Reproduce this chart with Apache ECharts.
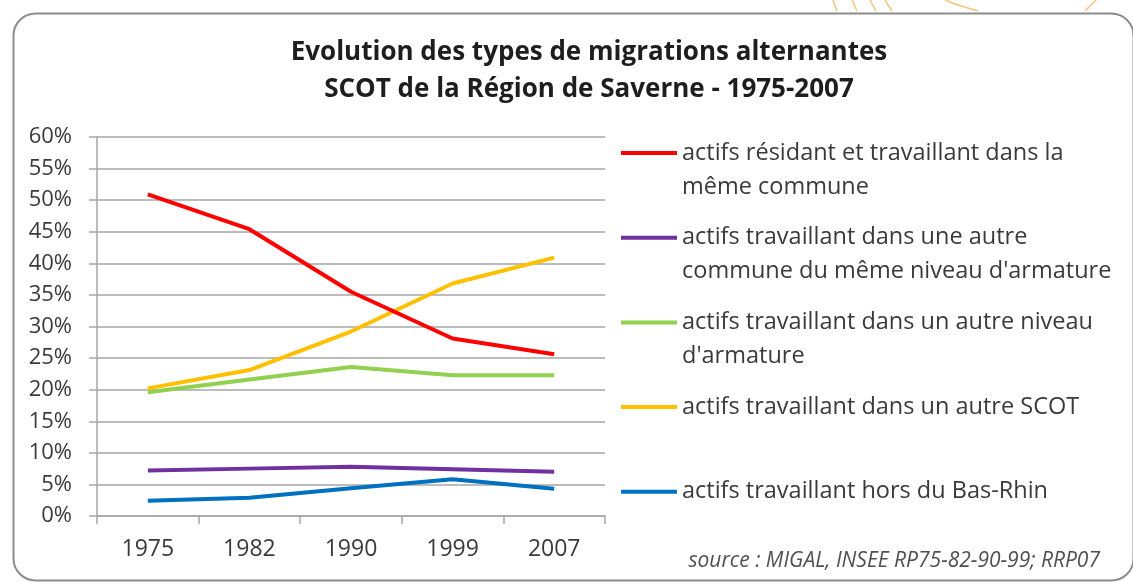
<!DOCTYPE html>
<html>
<head>
<meta charset="utf-8">
<script src="https://cdn.jsdelivr.net/npm/echarts@6/dist/echarts.min.js"></script>
<style>
html, body { margin: 0; padding: 0; background: #fff; }
#chart { width: 1133px; height: 582px; }
</style>
</head>
<body>
<div id="chart"></div>
<script>
// annees du recensement
var years = ['1975', '1982', '1990', '1999', '2007']

// parts en %
var resMemeCommune = [50.9, 45.4, 35.5, 28.1, 25.6]
var memeNiveau = [7.2, 7.5, 7.8, 7.4, 7.0]
var autreNiveau = [19.6, 21.6, 23.6, 22.3, 22.3]
var autreScot = [20.2, 23.1, 29.2, 36.8, 40.9]
var horsBasRhin = [2.4, 2.9, 4.4, 5.8, 4.3]

var names = [
	'actifs résidant et travaillant dans la\nmême commune',
	'actifs travaillant dans une autre\ncommune du même niveau d\'armature',
	'actifs travaillant dans un autre niveau\nd\'armature',
	'actifs travaillant dans un autre SCOT',
	'actifs travaillant hors du Bas-Rhin'
]
var values = [resMemeCommune, memeNiveau, autreNiveau, autreScot, horsBasRhin]
var colors = ['#ff0000', '#7030a0', '#92d050', '#ffc000', '#0070c0']

var font = 'Open Sans'
var lh = 34

var chart = echarts.init(document.getElementById('chart'))

// une legende par ligne pour caler chaque trait sur la 1ere ligne du texte
var legends = []
var series = []
for (var i = 0; i < names.length; i++) {
	var twoLines = names[i].indexOf('\n') >= 0
	var iconY = 153 + i * 84.7
	legends.push({
		left: 621,
		top: twoLines ? iconY - lh * 1.5 : iconY - lh / 2,
		padding: 0,
		icon: 'rect',
		itemWidth: 56,
		itemHeight: 4,
		itemGap: 4,
		selectedMode: false,
		// ligne vide devant : la 1ere ligne du nom tombe au milieu, sur le trait
		formatter: twoLines ? function(n){ return ' \n' + n } : '{name}',
		textStyle: {
			fontFamily: font,
			fontSize: 23.5,
			color: '#3a3a3a',
			lineHeight: lh
		},
		data: [names[i]]
	})
	series.push({
		name: names[i],
		type: 'line',
		data: values[i],
		symbol: 'none',
		color: colors[i],
		lineStyle: { width: 4, color: colors[i] },
		z: i == 0 ? 5 : 3
	})
}

// petits traits orange du fond, en haut a droite
var deco = [
	[[833, 0], [837, 11]],
	[[852, 0], [857, 11]],
	[[870, 0], [876, 11]],
	[[885, 0], [892, 11]],
	[[945, 0], [958, 5], [978, 11]],
	[[1096, 0], [1090, 6], [1085, 11]]
]

chart.setOption({
	backgroundColor: '#fff',
	animation: false,
	title: [{
		text: 'Evolution des types de migrations alternantes\nSCOT de la Région de Saverne - 1975-2007',
		left: 584,
		top: 29,
		textAlign: 'center',
		textStyle: {
			fontFamily: font,
			fontWeight: 'bold',
			fontSize: 26,
			lineHeight: 37,
			color: '#1e1e1e'
		}
	}, {
		text: 'source : MIGAL, INSEE RP75-82-90-99; RRP07',
		right: 28,
		top: 546,
		textStyle: {
			fontFamily: font,
			fontStyle: 'italic',
			fontWeight: 'normal',
			fontSize: 21,
			color: '#505050'
		}
	}],
	legend: legends,
	grid: { left: 97, right: 528, top: 137, bottom: 66 },
	xAxis: {
		type: 'category',
		data: years,
		boundaryGap: true,
		axisLine: { lineStyle: { color: '#a6a6a6', width: 1.5 } },
		axisTick: { show: true, length: 8, lineStyle: { color: '#a6a6a6', width: 1.5 } },
		axisLabel: { fontFamily: font, fontSize: 23, color: '#3a3a3a', margin: 22 }
	},
	yAxis: {
		type: 'value',
		min: 0,
		max: 60,
		interval: 5,
		axisLine: { show: true, lineStyle: { color: '#a6a6a6', width: 1.5 } },
		axisTick: { show: true, length: 8, lineStyle: { color: '#a6a6a6', width: 1.5 } },
		splitLine: { lineStyle: { color: '#a6a6a6', width: 1.5 } },
		axisLabel: { formatter: '{value}%', fontFamily: font, fontSize: 22, color: '#3a3a3a', margin: 25 }
	},
	graphic: deco.map(function(p){
		return {
			type: 'polyline',
			shape: { points: p, smooth: 0.4 },
			style: { fill: 'none', stroke: '#f3c57e', lineWidth: 1.5 },
			silent: true
		}
	}).concat([{
		type: 'rect',
		left: 11,
		top: 11,
		shape: { width: 1120, height: 567, r: 22 },
		style: { fill: 'none', stroke: '#8c8c8c', lineWidth: 2 },
		silent: true
	}]),
	series: series
})
</script>
</body>
</html>
